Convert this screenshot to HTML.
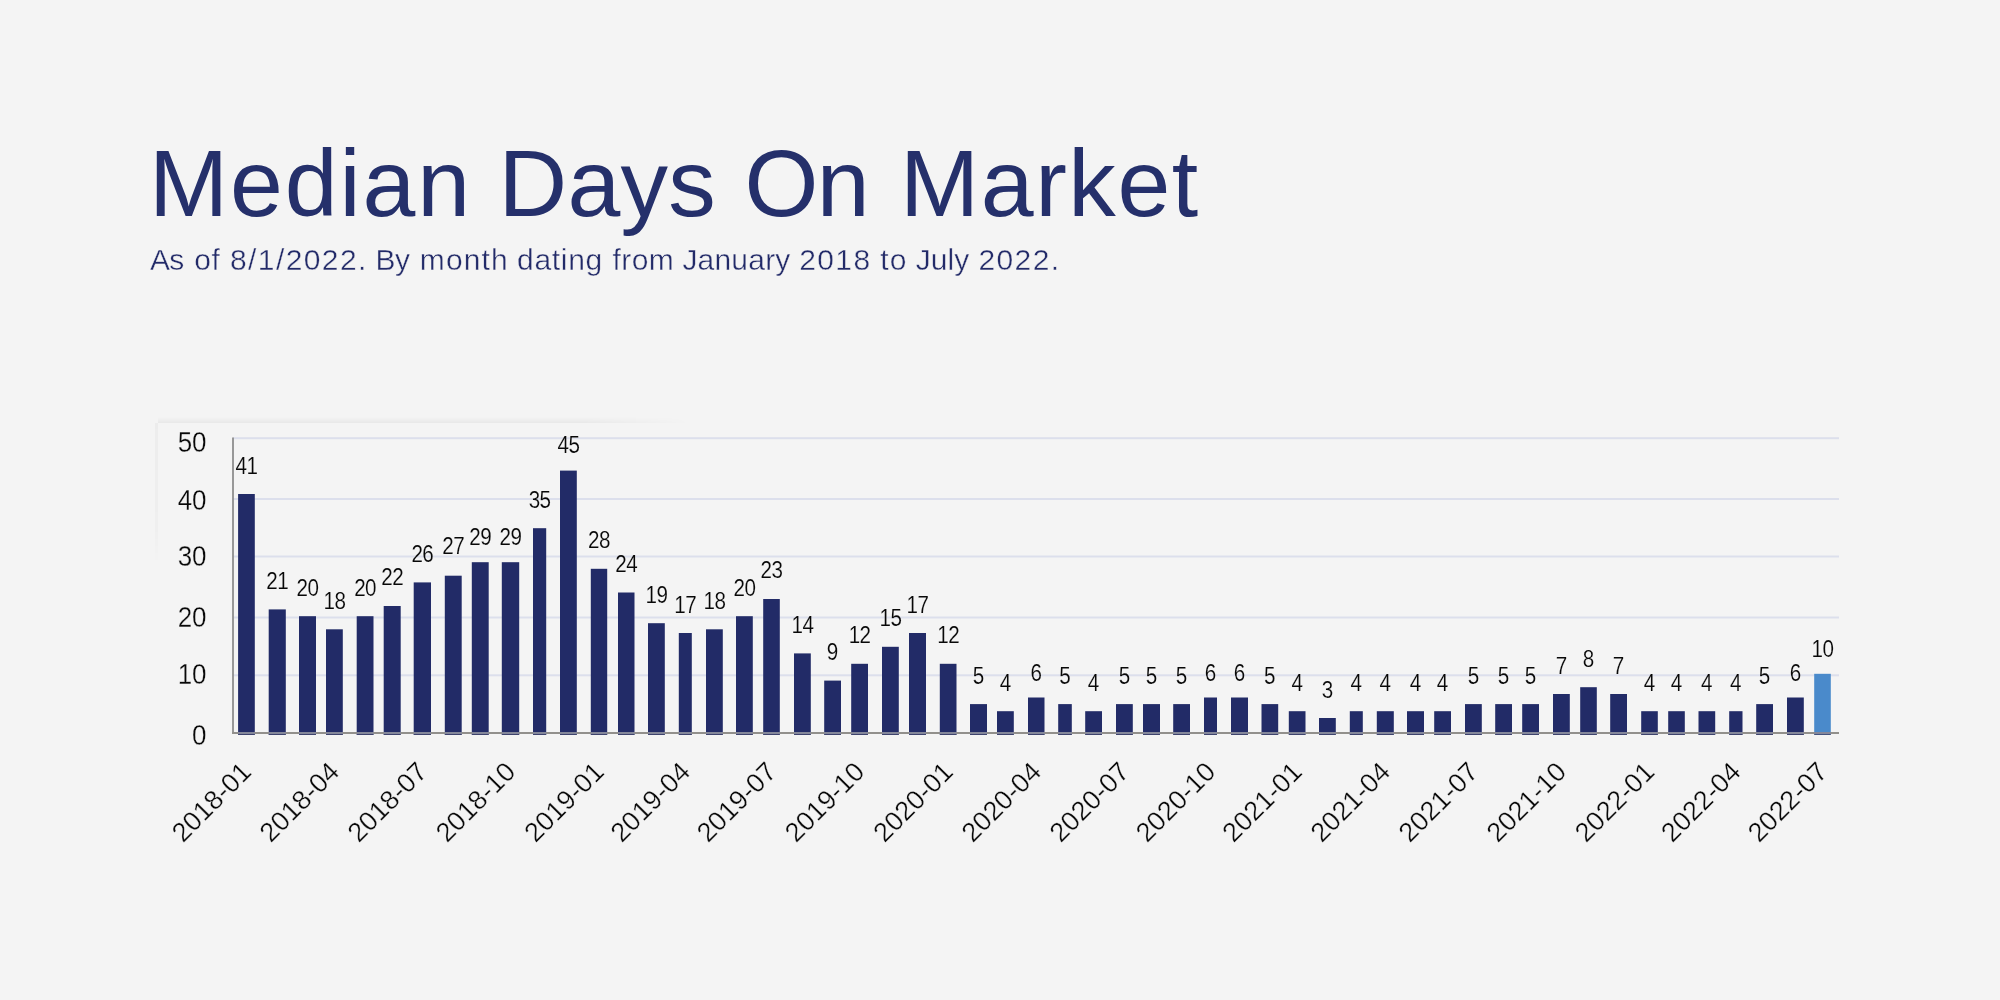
<!DOCTYPE html>
<html><head><meta charset="utf-8"><style>
html,body{margin:0;padding:0;background:#f4f4f4;width:2000px;height:1000px;overflow:hidden}
.l{stroke:#f4f4f4;stroke-width:0.15}
.t{stroke-width:0.3}
svg{position:absolute;left:0;top:0;will-change:transform;font-family:"Liberation Sans",sans-serif}
</style></head><body>
<svg width="2000" height="1000" viewBox="0 0 2000 1000">
<g fill="#25306b">
<text x="149.0" y="215.6" font-size="95" letter-spacing="1.88">Median</text>
<text x="498.6" y="215.6" font-size="95" letter-spacing="0.27">Days</text>
<text x="744.4" y="215.6" font-size="95" letter-spacing="-1.6">On</text>
<text x="900.0" y="215.6" font-size="95" letter-spacing="1.58">Market</text>
</g>
<g fill="#222a68" stroke="#f4f4f4" stroke-width="0.4">
<text x="150.0" y="269.5" font-size="30" letter-spacing="-0.75">As</text>
<text x="194.2" y="269.5" font-size="30" letter-spacing="0.75">of</text>
<text x="230.0" y="269.5" font-size="30" letter-spacing="1.4">8/1/2022.</text>
<text x="375.5" y="269.5" font-size="30" letter-spacing="-0.5">By</text>
<text x="419.8" y="269.5" font-size="30" letter-spacing="1.14">month</text>
<text x="517.0" y="269.5" font-size="30" letter-spacing="0.7">dating</text>
<text x="612.6" y="269.5" font-size="30" letter-spacing="0.4">from</text>
<text x="682.4" y="269.5" font-size="30" letter-spacing="0.2">January</text>
<text x="799.2" y="269.5" font-size="30" letter-spacing="1.4">2018</text>
<text x="880.3" y="269.5" font-size="30" letter-spacing="1.2">to</text>
<text x="915.7" y="269.5" font-size="30" letter-spacing="0.07">July</text>
<text x="978.4" y="269.5" font-size="30" letter-spacing="1.4">2022.</text>
</g>
<g fill="#080808">
<defs><linearGradient id="pv" x1="0" y1="0" x2="0" y2="1"><stop offset="0" stop-color="#000" stop-opacity="0"/><stop offset="1" stop-color="#000" stop-opacity="0.045"/></linearGradient><linearGradient id="ph" x1="0" y1="0" x2="0" y2="1"><stop offset="0" stop-color="#000" stop-opacity="0.03"/><stop offset="0.75" stop-color="#000" stop-opacity="0.02"/><stop offset="1" stop-color="#000" stop-opacity="0"/></linearGradient><linearGradient id="mh" x1="0" y1="0" x2="1" y2="0"><stop offset="0" stop-color="#fff"/><stop offset="0.8" stop-color="#fff"/><stop offset="1" stop-color="#000"/></linearGradient><mask id="mk"><rect x="150" y="410" width="540" height="20" fill="url(#mh)"/></mask></defs>
<rect x="158" y="417" width="527" height="6" fill="url(#pv)" mask="url(#mk)"/>
<rect x="155" y="423" width="3" height="140" fill="url(#ph)"/>
<rect x="233" y="437.2" width="1606" height="2" fill="#dcdfec"/>
<rect x="233" y="498.0" width="1606" height="2" fill="#dcdfec"/>
<rect x="233" y="555.5" width="1606" height="2" fill="#dcdfec"/>
<rect x="233" y="616.5" width="1606" height="2" fill="#dcdfec"/>
<rect x="233" y="674.3" width="1606" height="2" fill="#dcdfec"/>
<rect x="238.1" y="494.0" width="16.7" height="240.8" fill="#222b67"/>
<rect x="268.7" y="609.4" width="17.1" height="125.4" fill="#222b67"/>
<rect x="299.0" y="616.2" width="17.0" height="118.6" fill="#222b67"/>
<rect x="326.0" y="629.3" width="16.8" height="105.5" fill="#222b67"/>
<rect x="356.7" y="616.2" width="16.8" height="118.6" fill="#222b67"/>
<rect x="383.7" y="606.0" width="17.0" height="128.8" fill="#222b67"/>
<rect x="413.7" y="582.4" width="17.3" height="152.4" fill="#222b67"/>
<rect x="444.8" y="575.7" width="16.9" height="159.1" fill="#222b67"/>
<rect x="471.8" y="562.2" width="16.9" height="172.6" fill="#222b67"/>
<rect x="501.8" y="562.2" width="17.4" height="172.6" fill="#222b67"/>
<rect x="533.0" y="528.2" width="13.2" height="206.6" fill="#222b67"/>
<rect x="560.0" y="470.6" width="16.8" height="264.2" fill="#222b67"/>
<rect x="590.8" y="568.8" width="16.4" height="166.0" fill="#222b67"/>
<rect x="618.0" y="592.5" width="16.5" height="142.3" fill="#222b67"/>
<rect x="648.0" y="623.2" width="16.8" height="111.6" fill="#222b67"/>
<rect x="678.8" y="633.0" width="13.0" height="101.8" fill="#222b67"/>
<rect x="706.0" y="629.3" width="16.8" height="105.5" fill="#222b67"/>
<rect x="736.0" y="616.2" width="16.8" height="118.6" fill="#222b67"/>
<rect x="763.2" y="599.0" width="16.6" height="135.8" fill="#222b67"/>
<rect x="794.0" y="653.4" width="16.8" height="81.4" fill="#222b67"/>
<rect x="824.2" y="680.6" width="16.8" height="54.2" fill="#222b67"/>
<rect x="851.2" y="663.8" width="16.8" height="71.0" fill="#222b67"/>
<rect x="882.0" y="646.8" width="16.8" height="88.0" fill="#222b67"/>
<rect x="909.0" y="633.0" width="17.0" height="101.8" fill="#222b67"/>
<rect x="939.8" y="663.8" width="16.7" height="71.0" fill="#222b67"/>
<rect x="970.0" y="704.1" width="17.0" height="30.7" fill="#222b67"/>
<rect x="997.0" y="711.2" width="16.8" height="23.6" fill="#222b67"/>
<rect x="1028.0" y="697.5" width="16.5" height="37.3" fill="#222b67"/>
<rect x="1058.2" y="704.1" width="13.6" height="30.7" fill="#222b67"/>
<rect x="1085.2" y="711.2" width="16.8" height="23.6" fill="#222b67"/>
<rect x="1116.0" y="704.1" width="16.8" height="30.7" fill="#222b67"/>
<rect x="1143.0" y="704.1" width="17.0" height="30.7" fill="#222b67"/>
<rect x="1173.2" y="704.1" width="16.8" height="30.7" fill="#222b67"/>
<rect x="1204.0" y="697.5" width="13.0" height="37.3" fill="#222b67"/>
<rect x="1231.0" y="697.5" width="17.0" height="37.3" fill="#222b67"/>
<rect x="1261.5" y="704.1" width="16.7" height="30.7" fill="#222b67"/>
<rect x="1288.8" y="711.2" width="16.7" height="23.6" fill="#222b67"/>
<rect x="1319.0" y="718.0" width="16.8" height="16.8" fill="#222b67"/>
<rect x="1349.8" y="711.2" width="13.0" height="23.6" fill="#222b67"/>
<rect x="1376.8" y="711.2" width="17.0" height="23.6" fill="#222b67"/>
<rect x="1407.0" y="711.2" width="17.0" height="23.6" fill="#222b67"/>
<rect x="1434.2" y="711.2" width="16.8" height="23.6" fill="#222b67"/>
<rect x="1465.0" y="704.1" width="16.8" height="30.7" fill="#222b67"/>
<rect x="1495.2" y="704.1" width="16.8" height="30.7" fill="#222b67"/>
<rect x="1522.2" y="704.1" width="16.8" height="30.7" fill="#222b67"/>
<rect x="1553.0" y="694.0" width="16.8" height="40.8" fill="#222b67"/>
<rect x="1580.2" y="687.2" width="16.6" height="47.6" fill="#222b67"/>
<rect x="1610.2" y="694.0" width="16.8" height="40.8" fill="#222b67"/>
<rect x="1641.2" y="711.2" width="16.6" height="23.6" fill="#222b67"/>
<rect x="1668.2" y="711.2" width="16.6" height="23.6" fill="#222b67"/>
<rect x="1698.5" y="711.2" width="16.7" height="23.6" fill="#222b67"/>
<rect x="1729.2" y="711.2" width="13.3" height="23.6" fill="#222b67"/>
<rect x="1756.2" y="704.1" width="16.8" height="30.7" fill="#222b67"/>
<rect x="1787.0" y="697.5" width="16.8" height="37.3" fill="#222b67"/>
<rect x="1814.2" y="673.8" width="16.6" height="61.0" fill="#4a8acb"/>
<rect x="232.1" y="437.5" width="1.8" height="296" fill="#8e8e8e"/>
<rect x="232" y="732" width="1607" height="2" fill="#92908c"/>
<rect x="238.1" y="732" width="16.7" height="2" fill="#84879a"/>
<rect x="238.1" y="734" width="16.7" height="0.8" fill="#3b4068"/>
<rect x="268.7" y="732" width="17.1" height="2" fill="#84879a"/>
<rect x="268.7" y="734" width="17.1" height="0.8" fill="#3b4068"/>
<rect x="299.0" y="732" width="17.0" height="2" fill="#84879a"/>
<rect x="299.0" y="734" width="17.0" height="0.8" fill="#3b4068"/>
<rect x="326.0" y="732" width="16.8" height="2" fill="#84879a"/>
<rect x="326.0" y="734" width="16.8" height="0.8" fill="#3b4068"/>
<rect x="356.7" y="732" width="16.8" height="2" fill="#84879a"/>
<rect x="356.7" y="734" width="16.8" height="0.8" fill="#3b4068"/>
<rect x="383.7" y="732" width="17.0" height="2" fill="#84879a"/>
<rect x="383.7" y="734" width="17.0" height="0.8" fill="#3b4068"/>
<rect x="413.7" y="732" width="17.3" height="2" fill="#84879a"/>
<rect x="413.7" y="734" width="17.3" height="0.8" fill="#3b4068"/>
<rect x="444.8" y="732" width="16.9" height="2" fill="#84879a"/>
<rect x="444.8" y="734" width="16.9" height="0.8" fill="#3b4068"/>
<rect x="471.8" y="732" width="16.9" height="2" fill="#84879a"/>
<rect x="471.8" y="734" width="16.9" height="0.8" fill="#3b4068"/>
<rect x="501.8" y="732" width="17.4" height="2" fill="#84879a"/>
<rect x="501.8" y="734" width="17.4" height="0.8" fill="#3b4068"/>
<rect x="533.0" y="732" width="13.2" height="2" fill="#84879a"/>
<rect x="533.0" y="734" width="13.2" height="0.8" fill="#3b4068"/>
<rect x="560.0" y="732" width="16.8" height="2" fill="#84879a"/>
<rect x="560.0" y="734" width="16.8" height="0.8" fill="#3b4068"/>
<rect x="590.8" y="732" width="16.4" height="2" fill="#84879a"/>
<rect x="590.8" y="734" width="16.4" height="0.8" fill="#3b4068"/>
<rect x="618.0" y="732" width="16.5" height="2" fill="#84879a"/>
<rect x="618.0" y="734" width="16.5" height="0.8" fill="#3b4068"/>
<rect x="648.0" y="732" width="16.8" height="2" fill="#84879a"/>
<rect x="648.0" y="734" width="16.8" height="0.8" fill="#3b4068"/>
<rect x="678.8" y="732" width="13.0" height="2" fill="#84879a"/>
<rect x="678.8" y="734" width="13.0" height="0.8" fill="#3b4068"/>
<rect x="706.0" y="732" width="16.8" height="2" fill="#84879a"/>
<rect x="706.0" y="734" width="16.8" height="0.8" fill="#3b4068"/>
<rect x="736.0" y="732" width="16.8" height="2" fill="#84879a"/>
<rect x="736.0" y="734" width="16.8" height="0.8" fill="#3b4068"/>
<rect x="763.2" y="732" width="16.6" height="2" fill="#84879a"/>
<rect x="763.2" y="734" width="16.6" height="0.8" fill="#3b4068"/>
<rect x="794.0" y="732" width="16.8" height="2" fill="#84879a"/>
<rect x="794.0" y="734" width="16.8" height="0.8" fill="#3b4068"/>
<rect x="824.2" y="732" width="16.8" height="2" fill="#84879a"/>
<rect x="824.2" y="734" width="16.8" height="0.8" fill="#3b4068"/>
<rect x="851.2" y="732" width="16.8" height="2" fill="#84879a"/>
<rect x="851.2" y="734" width="16.8" height="0.8" fill="#3b4068"/>
<rect x="882.0" y="732" width="16.8" height="2" fill="#84879a"/>
<rect x="882.0" y="734" width="16.8" height="0.8" fill="#3b4068"/>
<rect x="909.0" y="732" width="17.0" height="2" fill="#84879a"/>
<rect x="909.0" y="734" width="17.0" height="0.8" fill="#3b4068"/>
<rect x="939.8" y="732" width="16.7" height="2" fill="#84879a"/>
<rect x="939.8" y="734" width="16.7" height="0.8" fill="#3b4068"/>
<rect x="970.0" y="732" width="17.0" height="2" fill="#84879a"/>
<rect x="970.0" y="734" width="17.0" height="0.8" fill="#3b4068"/>
<rect x="997.0" y="732" width="16.8" height="2" fill="#84879a"/>
<rect x="997.0" y="734" width="16.8" height="0.8" fill="#3b4068"/>
<rect x="1028.0" y="732" width="16.5" height="2" fill="#84879a"/>
<rect x="1028.0" y="734" width="16.5" height="0.8" fill="#3b4068"/>
<rect x="1058.2" y="732" width="13.6" height="2" fill="#84879a"/>
<rect x="1058.2" y="734" width="13.6" height="0.8" fill="#3b4068"/>
<rect x="1085.2" y="732" width="16.8" height="2" fill="#84879a"/>
<rect x="1085.2" y="734" width="16.8" height="0.8" fill="#3b4068"/>
<rect x="1116.0" y="732" width="16.8" height="2" fill="#84879a"/>
<rect x="1116.0" y="734" width="16.8" height="0.8" fill="#3b4068"/>
<rect x="1143.0" y="732" width="17.0" height="2" fill="#84879a"/>
<rect x="1143.0" y="734" width="17.0" height="0.8" fill="#3b4068"/>
<rect x="1173.2" y="732" width="16.8" height="2" fill="#84879a"/>
<rect x="1173.2" y="734" width="16.8" height="0.8" fill="#3b4068"/>
<rect x="1204.0" y="732" width="13.0" height="2" fill="#84879a"/>
<rect x="1204.0" y="734" width="13.0" height="0.8" fill="#3b4068"/>
<rect x="1231.0" y="732" width="17.0" height="2" fill="#84879a"/>
<rect x="1231.0" y="734" width="17.0" height="0.8" fill="#3b4068"/>
<rect x="1261.5" y="732" width="16.7" height="2" fill="#84879a"/>
<rect x="1261.5" y="734" width="16.7" height="0.8" fill="#3b4068"/>
<rect x="1288.8" y="732" width="16.7" height="2" fill="#84879a"/>
<rect x="1288.8" y="734" width="16.7" height="0.8" fill="#3b4068"/>
<rect x="1319.0" y="732" width="16.8" height="2" fill="#84879a"/>
<rect x="1319.0" y="734" width="16.8" height="0.8" fill="#3b4068"/>
<rect x="1349.8" y="732" width="13.0" height="2" fill="#84879a"/>
<rect x="1349.8" y="734" width="13.0" height="0.8" fill="#3b4068"/>
<rect x="1376.8" y="732" width="17.0" height="2" fill="#84879a"/>
<rect x="1376.8" y="734" width="17.0" height="0.8" fill="#3b4068"/>
<rect x="1407.0" y="732" width="17.0" height="2" fill="#84879a"/>
<rect x="1407.0" y="734" width="17.0" height="0.8" fill="#3b4068"/>
<rect x="1434.2" y="732" width="16.8" height="2" fill="#84879a"/>
<rect x="1434.2" y="734" width="16.8" height="0.8" fill="#3b4068"/>
<rect x="1465.0" y="732" width="16.8" height="2" fill="#84879a"/>
<rect x="1465.0" y="734" width="16.8" height="0.8" fill="#3b4068"/>
<rect x="1495.2" y="732" width="16.8" height="2" fill="#84879a"/>
<rect x="1495.2" y="734" width="16.8" height="0.8" fill="#3b4068"/>
<rect x="1522.2" y="732" width="16.8" height="2" fill="#84879a"/>
<rect x="1522.2" y="734" width="16.8" height="0.8" fill="#3b4068"/>
<rect x="1553.0" y="732" width="16.8" height="2" fill="#84879a"/>
<rect x="1553.0" y="734" width="16.8" height="0.8" fill="#3b4068"/>
<rect x="1580.2" y="732" width="16.6" height="2" fill="#84879a"/>
<rect x="1580.2" y="734" width="16.6" height="0.8" fill="#3b4068"/>
<rect x="1610.2" y="732" width="16.8" height="2" fill="#84879a"/>
<rect x="1610.2" y="734" width="16.8" height="0.8" fill="#3b4068"/>
<rect x="1641.2" y="732" width="16.6" height="2" fill="#84879a"/>
<rect x="1641.2" y="734" width="16.6" height="0.8" fill="#3b4068"/>
<rect x="1668.2" y="732" width="16.6" height="2" fill="#84879a"/>
<rect x="1668.2" y="734" width="16.6" height="0.8" fill="#3b4068"/>
<rect x="1698.5" y="732" width="16.7" height="2" fill="#84879a"/>
<rect x="1698.5" y="734" width="16.7" height="0.8" fill="#3b4068"/>
<rect x="1729.2" y="732" width="13.3" height="2" fill="#84879a"/>
<rect x="1729.2" y="734" width="13.3" height="0.8" fill="#3b4068"/>
<rect x="1756.2" y="732" width="16.8" height="2" fill="#84879a"/>
<rect x="1756.2" y="734" width="16.8" height="0.8" fill="#3b4068"/>
<rect x="1787.0" y="732" width="16.8" height="2" fill="#84879a"/>
<rect x="1787.0" y="734" width="16.8" height="0.8" fill="#3b4068"/>
<rect x="1814.2" y="732" width="16.6" height="2" fill="#84879a"/>
<rect x="1814.2" y="734" width="16.6" height="0.8" fill="#3b4068"/>
<text class="l t" transform="translate(206.5,451.8) scale(0.88,1)" text-anchor="end" font-size="29.5">50</text>
<text class="l t" transform="translate(206.5,509.5) scale(0.88,1)" text-anchor="end" font-size="29.5">40</text>
<text class="l t" transform="translate(206.5,566.0) scale(0.88,1)" text-anchor="end" font-size="29.5">30</text>
<text class="l t" transform="translate(206.5,626.5) scale(0.88,1)" text-anchor="end" font-size="29.5">20</text>
<text class="l t" transform="translate(206.5,684.1) scale(0.88,1)" text-anchor="end" font-size="29.5">10</text>
<text class="l t" transform="translate(206.5,745.2) scale(0.88,1)" text-anchor="end" font-size="29.5">0</text>
<text class="l" transform="translate(246.45,474.0) scale(0.86,1)" text-anchor="middle" font-size="24" letter-spacing="-0.6">41</text>
<text class="l" transform="translate(277.25,588.8) scale(0.86,1)" text-anchor="middle" font-size="24" letter-spacing="-0.6">21</text>
<text class="l" transform="translate(307.50,595.6) scale(0.86,1)" text-anchor="middle" font-size="24" letter-spacing="-0.6">20</text>
<text class="l" transform="translate(334.40,609.0) scale(0.86,1)" text-anchor="middle" font-size="24" letter-spacing="-0.6">18</text>
<text class="l" transform="translate(365.10,595.6) scale(0.86,1)" text-anchor="middle" font-size="24" letter-spacing="-0.6">20</text>
<text class="l" transform="translate(392.20,585.0) scale(0.86,1)" text-anchor="middle" font-size="24" letter-spacing="-0.6">22</text>
<text class="l" transform="translate(422.35,561.8) scale(0.86,1)" text-anchor="middle" font-size="24" letter-spacing="-0.6">26</text>
<text class="l" transform="translate(453.25,554.4) scale(0.86,1)" text-anchor="middle" font-size="24" letter-spacing="-0.6">27</text>
<text class="l" transform="translate(480.25,544.8) scale(0.86,1)" text-anchor="middle" font-size="24" letter-spacing="-0.6">29</text>
<text class="l" transform="translate(510.50,544.8) scale(0.86,1)" text-anchor="middle" font-size="24" letter-spacing="-0.6">29</text>
<text class="l" transform="translate(539.60,507.8) scale(0.86,1)" text-anchor="middle" font-size="24" letter-spacing="-0.6">35</text>
<text class="l" transform="translate(568.40,453.4) scale(0.86,1)" text-anchor="middle" font-size="24" letter-spacing="-0.6">45</text>
<text class="l" transform="translate(599.00,548.3) scale(0.86,1)" text-anchor="middle" font-size="24" letter-spacing="-0.6">28</text>
<text class="l" transform="translate(626.25,571.8) scale(0.86,1)" text-anchor="middle" font-size="24" letter-spacing="-0.6">24</text>
<text class="l" transform="translate(656.40,602.5) scale(0.86,1)" text-anchor="middle" font-size="24" letter-spacing="-0.6">19</text>
<text class="l" transform="translate(685.30,612.6) scale(0.86,1)" text-anchor="middle" font-size="24" letter-spacing="-0.6">17</text>
<text class="l" transform="translate(714.40,609.0) scale(0.86,1)" text-anchor="middle" font-size="24" letter-spacing="-0.6">18</text>
<text class="l" transform="translate(744.40,595.6) scale(0.86,1)" text-anchor="middle" font-size="24" letter-spacing="-0.6">20</text>
<text class="l" transform="translate(771.50,578.4) scale(0.86,1)" text-anchor="middle" font-size="24" letter-spacing="-0.6">23</text>
<text class="l" transform="translate(802.40,632.6) scale(0.86,1)" text-anchor="middle" font-size="24" letter-spacing="-0.6">14</text>
<text class="l" transform="translate(832.60,659.8) scale(0.86,1)" text-anchor="middle" font-size="24" letter-spacing="0">9</text>
<text class="l" transform="translate(859.60,642.6) scale(0.86,1)" text-anchor="middle" font-size="24" letter-spacing="-0.6">12</text>
<text class="l" transform="translate(890.40,626.2) scale(0.86,1)" text-anchor="middle" font-size="24" letter-spacing="-0.6">15</text>
<text class="l" transform="translate(917.50,612.6) scale(0.86,1)" text-anchor="middle" font-size="24" letter-spacing="-0.6">17</text>
<text class="l" transform="translate(948.15,642.6) scale(0.86,1)" text-anchor="middle" font-size="24" letter-spacing="-0.6">12</text>
<text class="l" transform="translate(978.50,683.8) scale(0.86,1)" text-anchor="middle" font-size="24" letter-spacing="0">5</text>
<text class="l" transform="translate(1005.40,690.5) scale(0.86,1)" text-anchor="middle" font-size="24" letter-spacing="0">4</text>
<text class="l" transform="translate(1036.25,680.7) scale(0.86,1)" text-anchor="middle" font-size="24" letter-spacing="0">6</text>
<text class="l" transform="translate(1065.00,683.8) scale(0.86,1)" text-anchor="middle" font-size="24" letter-spacing="0">5</text>
<text class="l" transform="translate(1093.60,690.5) scale(0.86,1)" text-anchor="middle" font-size="24" letter-spacing="0">4</text>
<text class="l" transform="translate(1124.40,683.8) scale(0.86,1)" text-anchor="middle" font-size="24" letter-spacing="0">5</text>
<text class="l" transform="translate(1151.50,683.8) scale(0.86,1)" text-anchor="middle" font-size="24" letter-spacing="0">5</text>
<text class="l" transform="translate(1181.60,683.8) scale(0.86,1)" text-anchor="middle" font-size="24" letter-spacing="0">5</text>
<text class="l" transform="translate(1210.50,680.7) scale(0.86,1)" text-anchor="middle" font-size="24" letter-spacing="0">6</text>
<text class="l" transform="translate(1239.50,680.7) scale(0.86,1)" text-anchor="middle" font-size="24" letter-spacing="0">6</text>
<text class="l" transform="translate(1269.85,683.8) scale(0.86,1)" text-anchor="middle" font-size="24" letter-spacing="0">5</text>
<text class="l" transform="translate(1297.15,690.5) scale(0.86,1)" text-anchor="middle" font-size="24" letter-spacing="0">4</text>
<text class="l" transform="translate(1327.40,697.5) scale(0.86,1)" text-anchor="middle" font-size="24" letter-spacing="0">3</text>
<text class="l" transform="translate(1356.30,690.5) scale(0.86,1)" text-anchor="middle" font-size="24" letter-spacing="0">4</text>
<text class="l" transform="translate(1385.30,690.5) scale(0.86,1)" text-anchor="middle" font-size="24" letter-spacing="0">4</text>
<text class="l" transform="translate(1415.50,690.5) scale(0.86,1)" text-anchor="middle" font-size="24" letter-spacing="0">4</text>
<text class="l" transform="translate(1442.60,690.5) scale(0.86,1)" text-anchor="middle" font-size="24" letter-spacing="0">4</text>
<text class="l" transform="translate(1473.40,683.8) scale(0.86,1)" text-anchor="middle" font-size="24" letter-spacing="0">5</text>
<text class="l" transform="translate(1503.60,683.8) scale(0.86,1)" text-anchor="middle" font-size="24" letter-spacing="0">5</text>
<text class="l" transform="translate(1530.60,683.8) scale(0.86,1)" text-anchor="middle" font-size="24" letter-spacing="0">5</text>
<text class="l" transform="translate(1561.40,673.8) scale(0.86,1)" text-anchor="middle" font-size="24" letter-spacing="0">7</text>
<text class="l" transform="translate(1588.50,666.8) scale(0.86,1)" text-anchor="middle" font-size="24" letter-spacing="0">8</text>
<text class="l" transform="translate(1618.60,673.8) scale(0.86,1)" text-anchor="middle" font-size="24" letter-spacing="0">7</text>
<text class="l" transform="translate(1649.50,690.5) scale(0.86,1)" text-anchor="middle" font-size="24" letter-spacing="0">4</text>
<text class="l" transform="translate(1676.50,690.5) scale(0.86,1)" text-anchor="middle" font-size="24" letter-spacing="0">4</text>
<text class="l" transform="translate(1706.85,690.5) scale(0.86,1)" text-anchor="middle" font-size="24" letter-spacing="0">4</text>
<text class="l" transform="translate(1735.85,690.5) scale(0.86,1)" text-anchor="middle" font-size="24" letter-spacing="0">4</text>
<text class="l" transform="translate(1764.60,683.8) scale(0.86,1)" text-anchor="middle" font-size="24" letter-spacing="0">5</text>
<text class="l" transform="translate(1795.40,680.7) scale(0.86,1)" text-anchor="middle" font-size="24" letter-spacing="0">6</text>
<text class="l" transform="translate(1822.50,656.6) scale(0.86,1)" text-anchor="middle" font-size="24" letter-spacing="-0.6">10</text>
<text class="l t" transform="translate(252.95,773.5) rotate(-45)" text-anchor="end" font-size="27">2018-01</text>
<text class="l t" transform="translate(340.90,773.5) rotate(-45)" text-anchor="end" font-size="27">2018-04</text>
<text class="l t" transform="translate(428.85,773.5) rotate(-45)" text-anchor="end" font-size="27">2018-07</text>
<text class="l t" transform="translate(517.00,773.5) rotate(-45)" text-anchor="end" font-size="27">2018-10</text>
<text class="l t" transform="translate(605.50,773.5) rotate(-45)" text-anchor="end" font-size="27">2019-01</text>
<text class="l t" transform="translate(691.80,773.5) rotate(-45)" text-anchor="end" font-size="27">2019-04</text>
<text class="l t" transform="translate(778.00,773.5) rotate(-45)" text-anchor="end" font-size="27">2019-07</text>
<text class="l t" transform="translate(866.10,773.5) rotate(-45)" text-anchor="end" font-size="27">2019-10</text>
<text class="l t" transform="translate(954.65,773.5) rotate(-45)" text-anchor="end" font-size="27">2020-01</text>
<text class="l t" transform="translate(1042.75,773.5) rotate(-45)" text-anchor="end" font-size="27">2020-04</text>
<text class="l t" transform="translate(1130.90,773.5) rotate(-45)" text-anchor="end" font-size="27">2020-07</text>
<text class="l t" transform="translate(1217.00,773.5) rotate(-45)" text-anchor="end" font-size="27">2020-10</text>
<text class="l t" transform="translate(1303.65,773.5) rotate(-45)" text-anchor="end" font-size="27">2021-01</text>
<text class="l t" transform="translate(1391.80,773.5) rotate(-45)" text-anchor="end" font-size="27">2021-04</text>
<text class="l t" transform="translate(1479.90,773.5) rotate(-45)" text-anchor="end" font-size="27">2021-07</text>
<text class="l t" transform="translate(1567.90,773.5) rotate(-45)" text-anchor="end" font-size="27">2021-10</text>
<text class="l t" transform="translate(1656.00,773.5) rotate(-45)" text-anchor="end" font-size="27">2022-01</text>
<text class="l t" transform="translate(1742.35,773.5) rotate(-45)" text-anchor="end" font-size="27">2022-04</text>
<text class="l t" transform="translate(1829.00,773.5) rotate(-45)" text-anchor="end" font-size="27">2022-07</text>
</g>
</svg>
</body></html>
